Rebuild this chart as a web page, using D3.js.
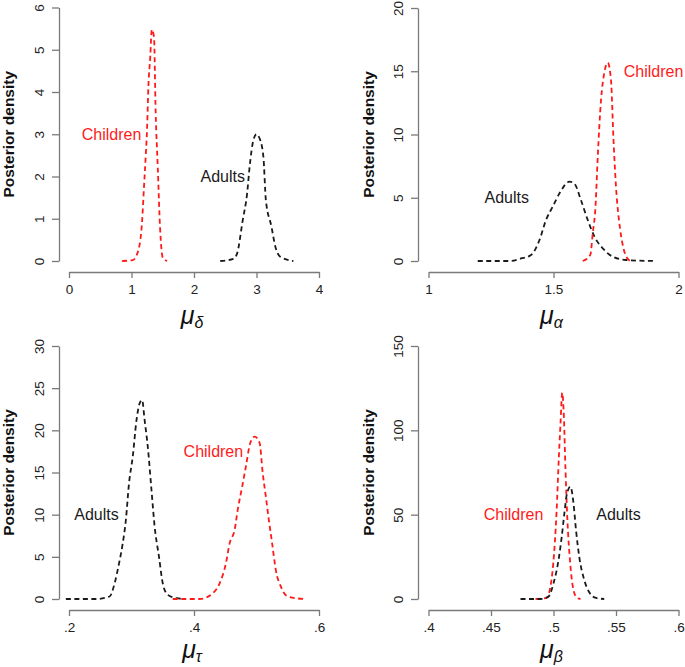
<!DOCTYPE html>
<html>
<head>
<meta charset="utf-8">
<script src="https://cdn.jsdelivr.net/npm/d3@7"></script>
<style>
  html, body { margin: 0; padding: 0; background: #fff; }
  svg { display: block; }
  text { font-family: "Liberation Sans", Arial, sans-serif; }
</style>
</head>
<body>
<svg id="chart" width="685" height="667"></svg>
<script>
// ---------------- DATA ----------------
// Panel 1: mu_delta
const deltaXTicks = [0, 1, 2, 3, 4];
const deltaXTickLabels = ["0", "1", "2", "3", "4"];
const deltaYTicks = [0, 1, 2, 3, 4, 5, 6];
const deltaChildrenX = [0.85, 1.02, 1.11, 1.17, 1.2, 1.227, 1.25, 1.27, 1.3, 1.325, 1.36, 1.387, 1.42, 1.456, 1.5, 1.57];
const deltaChildrenY = [0, 0.02, 0.26, 0.95, 1.76, 2.47, 3.17, 4.12, 4.83, 5.48, 5.3, 3.49, 2.23, 0.81, 0.08, 0];
const deltaAdultsX = [2.42, 2.63, 2.69, 2.78, 2.85, 2.89, 2.95, 3.0, 3.05, 3.11, 3.15, 3.24, 3.3, 3.38, 3.59];
const deltaAdultsY = [0, 0.05, 0.18, 0.97, 1.6, 2.23, 2.86, 3.0, 2.9, 2.47, 1.44, 0.81, 0.35, 0.1, 0];
const deltaLabels = [{text: "Children", group: "children", x: 0.68, y: 3.0}, {text: "Adults", group: "adults", x: 2.46, y: 2.0}];

// Panel 2: mu_alpha
const alphaXTicks = [1, 1.5, 2];
const alphaXTickLabels = ["1", "1.5", "2"];
const alphaYTicks = [0, 5, 10, 15, 20];
const alphaAdultsX = [1.197, 1.324, 1.37, 1.41, 1.444, 1.47, 1.497, 1.524, 1.564, 1.584, 1.61, 1.637, 1.664, 1.697, 1.737, 1.79, 1.904];
const alphaAdultsY = [0, 0, 0.2, 0.47, 1.66, 3.24, 4.3, 5.35, 6.27, 6.1, 4.8, 3.24, 1.92, 1.0, 0.34, 0.08, 0];
const alphaChildrenX = [1.617, 1.647, 1.657, 1.668, 1.677, 1.69, 1.704, 1.717, 1.73, 1.74, 1.75, 1.767, 1.78, 1.80, 1.81];
const alphaChildrenY = [0, 0.47, 2.2, 4.3, 8.25, 12.7, 14.96, 15.68, 14.3, 9.57, 5.87, 2.45, 1.0, 0.1, 0];
const alphaLabels = [{text: "Adults", group: "adults", x: 1.313, y: 5.0}, {text: "Children", group: "children", x: 1.9, y: 15.0}];

// Panel 3: mu_tau
const tauXTicks = [0.2, 0.4, 0.6];
const tauXTickLabels = [".2", ".4", ".6"];
const tauYTicks = [0, 5, 10, 15, 20, 25, 30];
const tauAdultsX = [0.195, 0.244, 0.265, 0.273, 0.28, 0.286, 0.291, 0.296, 0.302, 0.308, 0.313, 0.317, 0.321, 0.326, 0.332, 0.337, 0.344, 0.35, 0.358, 0.372, 0.385];
const tauAdultsY = [0, 0, 0.3, 1.86, 4.2, 6.6, 9.37, 13.7, 16.9, 21.2, 23.2, 23.6, 21.2, 18.1, 12.9, 8.6, 5.0, 1.86, 0.5, 0.1, 0];
const tauChildrenX = [0.366, 0.409, 0.43, 0.441, 0.451, 0.457, 0.465, 0.47, 0.477, 0.483, 0.49, 0.497, 0.505, 0.51, 0.515, 0.519, 0.525, 0.531, 0.539, 0.55, 0.576];
const tauChildrenY = [0, 0, 0.67, 1.86, 4.2, 6.6, 8.2, 10.6, 13.3, 15.7, 18.5, 19.25, 18.5, 14.9, 12.1, 9.8, 6.6, 3.4, 1.46, 0.3, 0];
const tauLabels = [{text: "Adults", group: "adults", x: 0.244, y: 10}, {text: "Children", group: "children", x: 0.431, y: 17.5}];

// Panel 4: mu_beta
const betaXTicks = [0.4, 0.45, 0.5, 0.55, 0.6];
const betaXTickLabels = [".4", ".45", ".5", ".55", ".6"];
const betaYTicks = [0, 50, 100, 150];
const betaAdultsX = [0.4736, 0.4896, 0.496, 0.5, 0.504, 0.5066, 0.5087, 0.5108, 0.5135, 0.516, 0.518, 0.5206, 0.5246, 0.529, 0.534, 0.5406];
const betaAdultsY = [0, 0, 1.4, 9.3, 23, 37, 50.8, 62.6, 66.6, 56.7, 40.9, 25, 11.3, 3.5, 0.6, 0];
const betaChildrenX = [0.4856, 0.4944, 0.497, 0.4998, 0.5024, 0.5043, 0.5056, 0.507, 0.5083, 0.5096, 0.511, 0.5134, 0.516, 0.519, 0.5216];
const betaChildrenY = [0, 0.6, 5.3, 21, 50.8, 84.4, 104, 122.3, 108, 76.5, 48.8, 21, 5.3, 0.6, 0];
const betaLabels = [{text: "Children", group: "children", x: 0.468, y: 50}, {text: "Adults", group: "adults", x: 0.552, y: 50}];

const yAxisTitle = "Posterior density";

// ---------------- LAYOUT ----------------
const colors = {children: "#ff1a1a", adults: "#1a1a1a"};
const axisColor = "#7a7a7a";

const panels = [
  {left: 69, top: 7.5, bottom: 261, xAxisY: 272, yAxisX: 59, yTitleX: 8, titleY: 324,
   xTicks: deltaXTicks, xLabels: deltaXTickLabels, yTicks: deltaYTicks, sub: "δ",
   series: [{g: "children", x: deltaChildrenX, y: deltaChildrenY}, {g: "adults", x: deltaAdultsX, y: deltaAdultsY}],
   labels: deltaLabels},
  {left: 428.5, top: 8, bottom: 261, xAxisY: 272, yAxisX: 418, yTitleX: 368, titleY: 324,
   xTicks: alphaXTicks, xLabels: alphaXTickLabels, yTicks: alphaYTicks, sub: "α",
   series: [{g: "adults", x: alphaAdultsX, y: alphaAdultsY}, {g: "children", x: alphaChildrenX, y: alphaChildrenY}],
   labels: alphaLabels},
  {left: 69, top: 346, bottom: 599, xAxisY: 610, yAxisX: 59, yTitleX: 8, titleY: 658,
   xTicks: tauXTicks, xLabels: tauXTickLabels, yTicks: tauYTicks, sub: "τ",
   series: [{g: "adults", x: tauAdultsX, y: tauAdultsY}, {g: "children", x: tauChildrenX, y: tauChildrenY}],
   labels: tauLabels},
  {left: 428.5, top: 346, bottom: 599, xAxisY: 610, yAxisX: 418, yTitleX: 368, titleY: 658,
   xTicks: betaXTicks, xLabels: betaXTickLabels, yTicks: betaYTicks, sub: "β",
   series: [{g: "children", x: betaChildrenX, y: betaChildrenY}, {g: "adults", x: betaAdultsX, y: betaAdultsY}],
   labels: betaLabels}
];
const plotWidth = 250;

const svg = d3.select("#chart");

panels.forEach(p => {
  const x = d3.scaleLinear()
    .domain([p.xTicks[0], p.xTicks[p.xTicks.length - 1]])
    .range([p.left, p.left + plotWidth]);
  const y = d3.scaleLinear()
    .domain([p.yTicks[0], p.yTicks[p.yTicks.length - 1]])
    .range([p.bottom, p.top]);

  // x axis
  const xAxis = d3.axisBottom(x)
    .tickValues(p.xTicks)
    .tickFormat((d, i) => p.xLabels[i])
    .tickSizeInner(6).tickSizeOuter(0).tickPadding(6);
  const gx = svg.append("g").attr("transform", `translate(0,${p.xAxisY})`).call(xAxis);
  gx.selectAll("path, line").attr("stroke", axisColor).attr("stroke-width", 1.3);
  gx.selectAll("text").attr("font-size", 13.5).attr("fill", "#222")
    .attr("font-family", "Liberation Sans, Arial, sans-serif");

  // y axis
  const yAxis = d3.axisLeft(y)
    .tickValues(p.yTicks)
    .tickFormat(d3.format("d"))
    .tickSizeInner(7).tickSizeOuter(0);
  const gy = svg.append("g").attr("transform", `translate(${p.yAxisX},0)`).call(yAxis);
  gy.selectAll("path, line").attr("stroke", axisColor).attr("stroke-width", 1.3);
  gy.selectAll("text")
    .attr("x", null).attr("dy", null)
    .attr("transform", "translate(-20,0) rotate(-90)")
    .attr("text-anchor", "middle")
    .attr("dominant-baseline", "central")
    .attr("font-size", 13.5).attr("fill", "#222")
    .attr("font-family", "Liberation Sans, Arial, sans-serif");

  // y axis title
  const yMid = (p.top + p.bottom) / 2;
  svg.append("text")
    .attr("transform", `translate(${p.yTitleX},${yMid}) rotate(-90)`)
    .attr("text-anchor", "middle")
    .attr("dominant-baseline", "central")
    .attr("font-size", 15.5)
    .attr("font-weight", "bold")
    .attr("fill", "#111")
    .text(yAxisTitle);

  // x axis title: mu with subscript
  const t = svg.append("text")
    .attr("x", p.left + plotWidth / 2 - 2)
    .attr("y", p.titleY)
    .attr("text-anchor", "middle")
    .attr("font-style", "italic")
    .attr("fill", "#111");
  t.append("tspan").attr("font-size", 25).text("μ");
  t.append("tspan").attr("font-size", 16).attr("dy", 4).text(p.sub);

  // curves
  const line = d3.line()
    .x(d => x(d[0]))
    .y(d => y(d[1]))
    .curve(d3.curveMonotoneX);
  p.series.forEach(s => {
    const pts = s.x.map((v, i) => [v, s.y[i]]);
    svg.append("path")
      .datum(pts)
      .attr("d", line)
      .attr("fill", "none")
      .attr("stroke", colors[s.g])
      .attr("stroke-width", 1.8)
      .attr("stroke-dasharray", "5,3.5");
  });

  // curve labels
  svg.selectAll(null)
    .data(p.labels)
    .enter().append("text")
    .attr("x", d => x(d.x))
    .attr("y", d => y(d.y))
    .attr("text-anchor", "middle")
    .attr("dominant-baseline", "central")
    .attr("font-size", 16)
    .attr("fill", d => colors[d.group])
    .text(d => d.text);
});
</script>
</body>
</html>
